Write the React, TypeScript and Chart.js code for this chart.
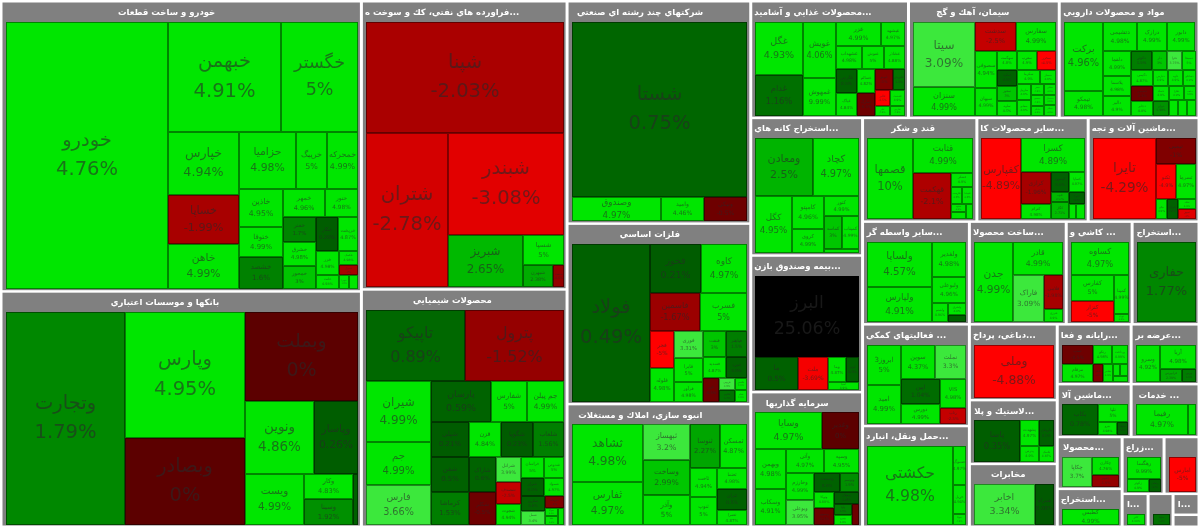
import React, { useEffect, useRef } from "react";
import { Chart, DatasetController, Element, LinearScale } from "chart.js";

type Row = [string, number, number]; // symbol, percent change, market weight

const CHART_W = 1200;
const CHART_H = 527;

const autoParts: Row[] = [
  ["خودرو", 4.76, 43092], ["خبهمن", 4.91, 12430], ["خگستر", 5, 8470], ["خپارس", 4.94, 4402], ["خساپا", -1.99, 3479], ["خاهن", 4.99, 3195],
  ["حزامیا", 4.98, 3192], ["خریبگ", 5, 1736], ["خمحرکه", 4.99, 1736], ["خاذین", 4.95, 1672], ["ختوقا", 4.99, 1320], ["خشصد", 1.6, 1408],
  ["خمهر", 4.96, 1176], ["ختور", 4.98, 924], ["خفنر", 1.7, 825], ["خشرق", 4.98, 792], ["خمحور", 3, 759], ["خکار", 0.26, 748], ["خریخت", 4.87, 680],
  ["خزر", 4.98, 552], ["خلنت", 4.98, 322], ["خکمک", 4.98, 266], ["خدیزل", -2, 190], ["خودرا", 4.9, 140], ["خوساز", 4.9, 126],
];
const banks: Row[] = [
  ["وتجارت", 1.79, 25560], ["وپارس", 4.95, 15120], ["وبصادر", 0, 10440], ["وبملت", 0, 10057], ["ونوین", 4.86, 5037], ["وپاسار", 0.26, 3212],
  ["ویست", 4.99, 3009], ["وکار", 4.83, 1225], ["وسینا", 1.92, 1274], ["وخاور", 0.5, 255],
];
const petroleum: Row[] = [
  ["شپنا", -2.03, 22089], ["شتران", -2.78, 12699], ["شبندر", -3.08, 11716], ["شبریز", 2.65, 3900], ["شسپا", 5, 1230], ["شبهرن", 2.38, 660], ["شنفت", -1.5, 242],
];
const chemicals: Row[] = [
  ["تاپیکو", 0.89, 7200], ["پترول", -1.52, 7200], ["شیران", 4.99, 4026], ["جم", 4.99, 2838], ["فارس", 3.66, 2640],
  ["پارسان", 0.59, 2460], ["شفارس", 5, 1517], ["جم پیلن", 4.99, 1517], ["شپلی", 0.21, 1330], ["شفن", 0.5, 1330], ["کرماشا", 1.53, 1254],
  ["قزن", 4.84, 1155], ["شگویا", 0.23, 1120], ["شلعاب", 1.56, 1085], ["شاراک", 0.6, 945], ["شکلر", -0.5, 891],
  ["شرانل", 3.99, 625], ["شصدف", -2.5, 550], ["شجوت", 4.94, 525], ["خراسان", 5, 483], ["شدوص", 5, 420], ["شیراز", 0.5, 414], ["شمواد", 4.97, 360],
  ["شکربن", 0.6, 360], ["شمل", 3.4, 336], ["شوینده", -1, 228], ["شتوکا", 4.9, 110], ["شلیا", 4.9, 110], ["شسم", 4.9, 103],
];
const holdings: Row[] = [["شستا", 0.75, 30800], ["وصندوق", 4.97, 2160], ["وامید", 4.46, 1032], ["ونیکی", -0.5, 1032]];
const metals: Row[] = [
  ["فولاد", 0.49, 12482], ["فخوز", 0.21, 2499], ["کاوه", 4.97, 2254], ["فاسمین", -1.67, 1900], ["فسرب", 5, 1786], ["فجر", -5, 888], ["فلوله", 4.98, 816],
  ["فوری", 3.31, 783], ["فایرا", 5, 696], ["فرآور", 4.98, 580], ["فنفت", 3, 598], ["فباهنر", 1.5, 546], ["فسدید", 4.87, 483], ["فنورد", 0.5, 441],
  ["فزر", -0.5, 384], ["فروس", 3.9, 192], ["فالوم", 1.2, 192], ["فگستر", 4.9, 144], ["فجام", 4.9, 144],
];
const housing: Row[] = [
  ["ثشاهد", 4.98, 4032], ["ثفارس", 4.97, 2952], ["ثبهساز", 3.2, 1645], ["وساخت", 2.99, 1551], ["وآذر", 5, 1363], ["ثنوسا", 2.27, 1260], ["ثمسکن", 4.87, 1134],
  ["ثاخت", 4.94, 756], ["ثنوپ", 5, 729], ["ثعتما", 4.98, 630], ["ثتران", 0.5, 600], ["ثعمرا", 4.87, 420],
];
const foods: Row[] = [
  ["غگل", 4.93, 2496], ["غدام", 1.16, 1920], ["غویش", 4.06, 1815], ["غمهوش", 9.99, 1221], ["غزر", 4.99, 1080], ["غبشهد", 4.97, 576],
  ["غشهداب", 4.98, 598], ["غنوش", 5, 483], ["غشاذر", 4.88, 483], ["غگرجی", 0.5, 504], ["غپاک", 4.84, 462], ["غسالم", 4.82, 408], ["غمارگ", -0.5, 374],
  ["غپینو", -1, 378], ["غکورش", 1.3, 252], ["غالبر", -4.5, 234], ["غاذر", 4.9, 156], ["غدشت", 4.9, 216], ["غفارس", 4.9, 144],
];
const cement: Row[] = [
  ["سیتا", 3.09, 3776], ["سنزان", 4.99, 1652], ["سدشت", -2.5, 1134], ["سفارس", 4.99, 1080], ["سصوفی", 4.94, 725], ["سبهان", 4.99, 550], ["سهگمت", 4.8, 350],
  ["سغرب", 4.9, 340], ["سخزر", -4.5, 323], ["سکرد", 0.5, 306], ["سخوز", 3, 288], ["ساوه", 4.5, 288], ["سکرما", 4.9, 288],
  ["سمتاز", 4.9, 208], ["ساربیل", 4.9, 208], ["سفانو", 4.9, 208], ["سنیر", 4.9, 130], ["سقاین", 4.9, 130], ["سبجنو", 4.9, 130], ["سایلام", 4.9, 110], ["سشمال", 4.9, 110], ["سیلام", 4.9, 110],
];
const pharma: Row[] = [
  ["برکت", 4.96, 2652], ["تیمکو", 4.98, 936], ["دتشیمی", 4.98, 952], ["درازک", 4.99, 840], ["دابور", 4.99, 784],
  ["دلقما", 4.99, 675], ["پلاسما", 4.98, 540], ["دالبر", 4.9, 513], ["دکوثر", 1.5, 399], ["دلر", 3, 285], ["دفرا", 3.75, 285], ["دسبحا", 5, 266],
  ["دکیمی", 4.87, 315], ["دشیمی", -0.5, 315], ["دجابر", 4.8, 315], ["دپارس", 4.9, 240], ["داوه", 4.9, 225], ["دسانکو", 4.9, 195],
  ["دتماد", 4.9, 225], ["دیران", 1.98, 225], ["دفارا", 4.9, 195], ["دعبید", 4.9, 150], ["درهآور", 4.9, 150], ["دامین", 4.9, 130], ["دکپسول", 4.9, 130],
];
const mining: Row[] = [
  ["ومعادن", 2.5, 3364], ["کچاد", 4.97, 2668], ["کگل", 4.95, 2109], ["کامپتو", 4.96, 1089], ["کروی", 4.99, 792], ["کنور", 4.99, 700], ["کماسه", 3, 594], ["کمیناب", 4.99, 561], ["کپرور", 4.9, 140],
];
const insurance: Row[] = [["البرز", 25.06, 8400], ["ما", 0.5, 1376], ["ملت", -3.69, 992], ["وما", 4.87, 434], ["کوثر", 0.5, 324], ["آسیا", 4.9, 234]];
const investment: Row[] = [
  ["وسایا", 4.97, 2448], ["وغدیر", 0, 1332], ["وبهمن", 4.98, 1240], ["وسکاب", 4.91, 1085], ["وآتی", 4.97, 918], ["وسپه", 4.95, 850], ["وخارزم", 4.99, 748],
  ["وبوعلی", 3.95, 696], ["وصنعت", 0.5, 493], ["وتوسم", 1.9, 374], ["وتوکا", 4.88, 323], ["وسپهر", -0.5, 345], ["ومهان", 0.4, 299], ["وآوا", 1.5, 198], ["ونیرو", 4.8, 170], ["واعتبار", -0.5, 136],
];
const sugar: Row[] = [
  ["قصمها", 10, 3760], ["قثابت", 4.99, 2074], ["قهکمت", -2.1, 1748], ["قشکر", 4.9, 322], ["قلرست", 4.9, 204], ["قنیشا", 4.9, 187], ["قشهد", 4.9, 120], ["قچار", 4.9, 120], ["قنقش", 4.9, 120],
];
const minerals: Row[] = [
  ["کفپارس", -4.89, 3200], ["کسرا", 4.89, 2079], ["کرازی", -1.96, 928], ["کترام", 4.98, 435], ["کیسون", 0.5, 360], ["کساپا", 4.97, 306], ["کلوند", 2.57, 180],
  ["کگاز", 2.71, 320], ["کفرا", 0.5, 192], ["کهمدا", 4.9, 112], ["کاذر", 4.9, 128],
];
const machinery: Row[] = [
  ["تایرا", -4.29, 4960], ["تپمپی", -1, 975], ["تکنو", -4.9, 700], ["تسرما", 4.97, 665], ["تپکو", 4.9, 220], ["فنوال", 0.5, 209], ["تشاد", 4.9, 171], ["تجهیز", -3, 180],
];
const brokers: Row[] = [["ولساپا", 4.57, 2990], ["ولپارس", 4.91, 2275], ["ولغدیر", 4.98, 1190], ["ولبوعلی", 4.96, 884], ["ولصنم", 4.96, 304], ["ولشرق", 4.9, 216], ["وملل", 0.5, 126]];
const support: Row[] = [["ابروز3", 5, 1360], ["امید", 4.99, 1292], ["سوین", 4.37, 1156], ["نملت", 3.3, 1054], ["اپین", 1.04, 968], ["دورس", 4.99, 770], ["VIS", 4.98, 735], ["رتاپ", -2.5, 387]];
const transport: Row[] = [["حکشتی", 4.98, 6622], ["حسوگ", 4.97, 494], ["حریل", 4.94, 377], ["حتوکا", 4.9, 130]];
const metalProducts: Row[] = [["جدن", 4.99, 3240], ["قادر", 4.99, 1683], ["فاراک", 3.09, 1536], ["فلامی", -1.98, 665], ["فنرژی", 4.9, 247]];
const ceramics: Row[] = [["کساوه", 4.97, 1947], ["کفارس", 5, 1152], ["کنزار", -5, 945], ["کمینا", 4.99, 609], ["کهرام", 4.9, 126]];
const drilling: Row[] = [["حفاری", 1.77, 1]];
const tanning: Row[] = [["وملی", -4.88, 1]];
const rubber: Row[] = [["پاسا", 0.35, 2016], ["پشهدت", 4.97, 520], ["پکرمان", 0.5, 390], ["پدرس", 4.9, 320], ["پلاسک", 4.87, 240]];
const telecom: Row[] = [["اخابر", 3.34, 2432], ["همراه", 0.08, 722]];
const computing: Row[] = [["سپ", -0.5, 589], ["مرقام", 4.97, 558], ["رتکو", 4.98, 361], ["پرداخت", 4.99, 304], ["ماهان", -1, 180], ["مفاخر", 4.9, 180], ["رانفور", 4.9, 90], ["رکیش", 4.9, 90], ["فن", 4.9, 90]];
const exchanges: Row[] = [["وسرو", 4.92, 888], ["آریا", 4.98, 816], ["فرابورس", 2.39, 273], ["بورس", 1.5, 169]];
const machinery2: Row[] = [["بکاب", 0.78, 1044], ["تلیا", 5, 493], ["بنیرو", 4.98, 247], ["بشهاب", 0.5, 130]];
const services: Row[] = [["رفیما", 4.97, 1508], ["خدمت", 4.86, 203]];
const wood: Row[] = [["چکاپا", 3.7, 868], ["چکارن", 4.76, 459], ["چفیبر", -1.5, 297]];
const coal: Row[] = [["کطبس", 4.99, 1]];
const farming: Row[] = [["رهگسا", 9.99, 714], ["زکوثر", 4.9, 264], ["زماهان", 0.5, 144]];
const unnamed1: Row[] = [["امارس", -5, 1]];
const small1: Row[] = [["کاذر", 4.98, 1]];
const small2: Row[] = [["ساینا", 1.2, 1]];
const small3: Row[] = [];
const small4: Row[] = [];

const sectorTitles = [
  "خودرو و ساخت قطعات", "بانكها و موسسات اعتباري", "...فراورده هاي نفتي، كك و سوخت ه", "محصولات شيميايي",
  "شركتهاي چند رشته اي صنعتي", "فلزات اساسي", "انبوه سازي، املاك و مستغلات",
  "...محصولات غذايي و آشاميد", "سيمان، آهك و گچ", "مواد و محصولات دارويي",
  "...استخراج كانه هاي", "...بيمه وصندوق بازن", "سرمايه گذاريها",
  "قند و شكر", "...ساير محصولات كا", "...ماشين آلات و تجه",
  "...ساير واسطه گر", "... فعاليتهاي كمكي", "...حمل ونقل، انبارد",
  "...ساخت محصولا", "... كاشي و", "...استخراج",
  "...دباغي، پرداخ", "...لاستيك و پلا", "مخابرات",
  "...رايانه و فعا", "...عرضه بر", "...ماشين آلا", "... خدمات",
  "...محصولا", "...استخراج", "...زراع", "", "...ا", "", "...ا", "",
];
const sectorWeights = [
  105051, 85196, 59534, 49028, 41032, 33304, 22632,
  18486, 17667, 16380, 15456, 15344, 15120, 11908, 11596, 11544, 11021, 10914, 10807,
  9991, 6798, 6901, 6688, 5632, 5544, 4440, 4080, 3922, 3604, 3380, 2470, 2394, 1995, 858, 825, 546, 312,
];
const sectorRows: Row[][] = [
  autoParts, banks, petroleum, chemicals, holdings, metals, housing, foods, cement, pharma, mining, insurance, investment,
  sugar, minerals, machinery, brokers, support, transport, metalProducts, ceramics, drilling, tanning, rubber, telecom,
  computing, exchanges, machinery2, services, wood, coal, farming, unnamed1, small1, small2, small3, small4,
];

type Box = { x0: number; y0: number; x1: number; y1: number };

function squarify(values: number[], box: Box): Box[] {
  const out: Box[] = [];
  let { x0, y0, x1, y1 } = box;
  let value = values.reduce((a, b) => a + b, 0);
  let i0 = 0;
  const n = values.length;
  while (i0 < n) {
    const dx = x1 - x0;
    const dy = y1 - y0;
    let sum = values[i0];
    let minV = sum;
    let maxV = sum;
    const alpha = Math.max(dy / dx, dx / dy) / value;
    let beta = sum * sum * alpha;
    let minRatio = Math.max(maxV / beta, beta / minV);
    let i1 = i0 + 1;
    for (; i1 < n; i1++) {
      const v = values[i1];
      sum += v;
      const mn = Math.min(minV, v);
      const mx = Math.max(maxV, v);
      beta = sum * sum * alpha;
      const r = Math.max(mx / beta, beta / mn);
      if (r > minRatio) {
        sum -= v;
        break;
      }
      minV = mn;
      maxV = mx;
      minRatio = r;
    }
    if (dx < dy) {
      const h = value ? (dy * sum) / value : 0;
      let x = x0;
      for (let i = i0; i < i1; i++) {
        const w = (dx * values[i]) / sum;
        out.push({ x0: x, y0, x1: x + w, y1: y0 + h });
        x += w;
      }
      y0 += h;
    } else {
      const w = value ? (dx * sum) / value : 0;
      let y = y0;
      for (let i = i0; i < i1; i++) {
        const h = (dy * values[i]) / sum;
        out.push({ x0, y0: y, x1: x0 + w, y1: y + h });
        y += h;
      }
      x0 += w;
    }
    value -= sum;
    i0 = i1;
  }
  return out;
}

const HEADER = 19;

function buildData() {
  const sectors: any[] = [];
  const cells: any[] = [];
  const outer = squarify(sectorWeights, { x0: 1, y0: 1, x1: CHART_W - 1, y1: CHART_H - 0.5 });
  outer.forEach((t, i) => {
    const f = { x0: t.x0 + 1.5, y0: t.y0 + 1.5, x1: t.x1 - 1.5, y1: t.y1 - 1 };
    sectors.push({ kind: "sector", x: f.x0, y: f.y0, x1: f.x1, y1: f.y1, title: sectorTitles[i] });
    const inner = { x0: f.x0 + 3, y0: f.y0 + HEADER, x1: f.x1 - 2, y1: f.y1 - 1 };
    const rows = sectorRows[i];
    if (!rows.length || inner.y1 <= inner.y0) return;
    squarify(rows.map((r) => r[2]), inner).forEach((b, j) => {
      cells.push({ kind: "cell", x: b.x0, y: b.y0, x1: b.x1, y1: b.y1, name: rows[j][0], pct: rows[j][1] });
    });
  });
  return { sectors, cells };
}

function mix(stops: [number, number, number, number][], p: number) {
  for (let i = 1; i < stops.length; i++) {
    if (p <= stops[i][0]) {
      const a = stops[i - 1];
      const b = stops[i];
      const t = (p - a[0]) / (b[0] - a[0]);
      const c = [1, 2, 3].map((k) => Math.round(a[k] + (b[k] - a[k]) * t));
      return `rgb(${c[0]},${c[1]},${c[2]})`;
    }
  }
  const l = stops[stops.length - 1];
  return `rgb(${l[1]},${l[2]},${l[3]})`;
}

function colorFor(p: number) {
  if (p >= 20) return "#000000";
  if (p >= 4) return "#00e600";
  if (p >= 3.05) return "#3ce83c";
  if (p > 0)
    return mix([[0, 0, 88, 0], [1, 0, 106, 0], [1.8, 0, 136, 0], [2.5, 0, 180, 0], [3.05, 0, 200, 0]], p);
  return mix([[-5, 255, 0, 0], [-4, 255, 0, 0], [-3, 224, 0, 0], [-2, 168, 0, 0], [-1, 128, 0, 0], [0, 92, 0, 0]], p);
}

class TileElement extends Element {
  static id = "tile";
  static defaults = {};
  draw(ctx: CanvasRenderingContext2D) {
    const { px0, py0, px1, py1, raw } = this as any;
    const w = px1 - px0;
    const h = py1 - py0;
    if (raw.kind === "sector") {
      ctx.fillStyle = "#808080";
      ctx.fillRect(px0, py0, w, h);
      if (raw.title) {
        ctx.save();
        ctx.beginPath();
        ctx.rect(px0, py0, w, HEADER);
        ctx.clip();
        ctx.direction = "rtl";
        ctx.textAlign = "center";
        ctx.textBaseline = "middle";
        ctx.fillStyle = "#ffffff";
        ctx.font = "bold 8.5px 'DejaVu Sans'";
        const tw = ctx.measureText(raw.title).width;
        const tx = Math.max(px0 + tw / 2 + 2, px0 + w / 2 - tw * 0.15);
        ctx.fillText(raw.title, tx, py0 + HEADER / 2 + 0.5);
        ctx.restore();
      }
      return;
    }
    const x = Math.round(px0);
    const y = Math.round(py0);
    const rw = Math.max(1, Math.round(px1) - x);
    const rh = Math.max(1, Math.round(py1) - y);
    ctx.fillStyle = colorFor(raw.pct);
    ctx.fillRect(x, y, rw, rh);
    ctx.strokeStyle = "rgba(0,0,0,0.42)";
    ctx.lineWidth = 1;
    ctx.strokeRect(x + 0.5, y + 0.5, rw - 1, rh - 1);
    if (rw < 10 || rh < 8) return;
    const fs = Math.min(19.5, 0.19 * Math.sqrt(rw * rh));
    const cx = x + rw / 2;
    const cy = y + rh / 2;
    ctx.textAlign = "center";
    ctx.textBaseline = "middle";
    ctx.fillStyle = "rgba(40,40,40,0.6)";
    ctx.font = `${fs}px 'DejaVu Sans'`;
    ctx.direction = "rtl";
    ctx.fillText(raw.name, cx, cy - fs * 0.75);
    ctx.direction = "ltr";
    ctx.fillText(`${raw.pct}%`, cx, cy + fs * 0.75);
  }
}

class TreemapController extends DatasetController {
  static id = "treemap";
  static defaults = { dataElementType: "tile", datasetElementType: false };
  update(mode: any) {
    const meta: any = (this as any)._cachedMeta;
    (this as any).updateElements(meta.data, 0, meta.data.length, mode);
  }
  updateElements(elems: any[], start: number, count: number, mode: any) {
    const meta: any = (this as any)._cachedMeta;
    const data: any[] = (this as any).getDataset().data;
    for (let i = start; i < start + count; i++) {
      const d = data[i];
      (this as any).updateElement(
        elems[i],
        i,
        {
          raw: d,
          px0: meta.xScale.getPixelForValue(d.x),
          px1: meta.xScale.getPixelForValue(d.x1),
          py0: meta.yScale.getPixelForValue(d.y),
          py1: meta.yScale.getPixelForValue(d.y1),
          x: meta.xScale.getPixelForValue(d.x),
          y: meta.yScale.getPixelForValue(d.y),
          options: {},
        },
        mode
      );
    }
  }
  draw() {
    const meta: any = (this as any)._cachedMeta;
    const ctx = (this as any).chart.ctx;
    meta.data.forEach((e: any) => e.draw(ctx));
  }
}

Chart.register(LinearScale, TreemapController as any, TileElement as any);

export default function App() {
  const ref = useRef<HTMLCanvasElement | null>(null);
  useEffect(() => {
    if (!ref.current) return;
    const { sectors, cells } = buildData();
    const chart = new Chart(ref.current, {
      type: "treemap" as any,
      data: {
        datasets: [
          { label: "cells", data: cells, parsing: false } as any,
          { label: "sectors", data: sectors, parsing: false } as any,
        ],
      },
      options: {
        animation: false,
        responsive: false,
        layout: { padding: 0 },
        events: [],
        scales: {
          x: { type: "linear", min: 0, max: CHART_W, display: false },
          y: { type: "linear", min: 0, max: CHART_H, reverse: true, display: false },
        },
        plugins: { legend: { display: false }, tooltip: { enabled: false } },
      } as any,
    });
    return () => chart.destroy();
  }, []);
  return (
    <div style={{ position: "fixed", left: 0, top: 0, width: CHART_W, height: CHART_H, background: "#fff" }}>
      <canvas ref={ref} width={CHART_W} height={CHART_H} style={{ display: "block" }} />
    </div>
  );
}
